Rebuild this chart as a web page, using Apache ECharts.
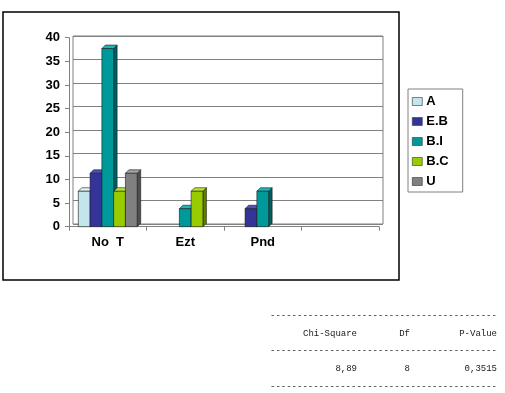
<!DOCTYPE html>
<html>
<head>
<meta charset="utf-8">
<script src="https://cdn.jsdelivr.net/npm/echarts@6/dist/echarts.min.js"></script>
<style>
html,body{margin:0;padding:0;background:#fff;}
#chart{width:505px;height:393px;}
</style>
</head>
<body>
<div id="chart"></div>
<script>
// ---- data ----
var categories = ['No  T', 'Ezt', 'Pnd', ''];
var seriesNames = ['A', 'E.B', 'B.I', 'B.C', 'U'];
var valA  = [7.5, 0, 0, 0];
var valEB = [11.3, 0, 3.8, 0];
var valBI = [37.7, 3.8, 7.5, 0];
var valBC = [7.5, 7.5, 0, 0];
var valU  = [11.3, 0, 0, 0];
var yTicks = [0, 40, 5];
var statHeaders = ['Chi-Square', 'Df', 'P-Value'];
var statValues = ['8,89', '8', '0,3515'];

var allValues = [valA, valEB, valBI, valBC, valU];
var faceColors = ['#C2E6EC', '#333399', '#009999', '#99CC00', '#808080'];
var sideColors = ['#8DB3BA', '#1E1E66', '#005F5F', '#627F00', '#4E4E4E'];
var topColors  = ['#E2F4F7', '#5050B8', '#1FB5B5', '#B9E632', '#A4A4A4'];
var nS = seriesNames.length;

function makeRender(k) {
  return function (params, api) {
    var cat = api.value(0), val = api.value(1);
    if (!val) return null;
    var p0 = api.coord([cat, 0]);
    var p1 = api.coord([cat, val]);
    var band = api.size([1, 0])[0];
    var bw = band * 0.152;
    var d = 3.5;
    var x = p0[0] - bw * nS / 2 + k * bw;
    var yb = p0[1], yt = p1[1];
    var stroke = '#1a1a1a';
    return {
      type: 'group',
      children: [
        { type: 'polygon', shape: { points: [[x + bw, yt], [x + bw + d, yt - d], [x + bw + d, yb - d], [x + bw, yb]] },
          style: { fill: sideColors[k], stroke: stroke, lineWidth: 0.6 } },
        { type: 'polygon', shape: { points: [[x, yt], [x + d, yt - d], [x + bw + d, yt - d], [x + bw, yt]] },
          style: { fill: topColors[k], stroke: stroke, lineWidth: 0.6 } },
        { type: 'rect', shape: { x: x, y: yt, width: bw, height: yb - yt },
          style: { fill: faceColors[k], stroke: stroke, lineWidth: 0.6 } }
      ]
    };
  };
}

var series = [];
for (var k = 0; k < nS; k++) {
  series.push({
    type: 'custom',
    name: seriesNames[k],
    xAxisIndex: 1,
    yAxisIndex: 1,
    itemStyle: { color: faceColors[k] },
    renderItem: makeRender(k),
    encode: { x: 0, y: 1 },
    data: allValues[k].map(function (v, i) { return [i, v]; })
  });
}

var mono = '9px "Liberation Mono", "DejaVu Sans Mono", monospace';
var dashes = new Array(43).join('-');
var statY1 = 334, statY2 = 369;
var rightEdges = [357, 410, 497];
var graphics = [
  { type: 'rect', shape: { x: 3, y: 12, width: 396, height: 268 },
    style: { fill: 'none', stroke: '#000', lineWidth: 1.5 }, z: 0 }
];
[316, 351, 387].forEach(function (y) {
  graphics.push({ type: 'text', x: 270, y: y, style: { text: dashes, font: mono, fill: '#1a1a1a', textVerticalAlign: 'middle' } });
});
for (var i = 0; i < 3; i++) {
  graphics.push({ type: 'text', x: rightEdges[i], y: statY1, style: { text: statHeaders[i], font: mono, fill: '#1a1a1a', textAlign: 'right', textVerticalAlign: 'middle' } });
  graphics.push({ type: 'text', x: rightEdges[i], y: statY2, style: { text: statValues[i], font: mono, fill: '#1a1a1a', textAlign: 'right', textVerticalAlign: 'middle' } });
}

var chart = echarts.init(document.getElementById('chart'), null, { renderer: 'canvas' });
chart.setOption({
  animation: false,
  backgroundColor: '#fff',
  grid: [
    { left: 73, top: 36, width: 310, height: 188, show: true, borderColor: '#808080', borderWidth: 1, backgroundColor: '#fff' },
    { left: 69, top: 37.7, width: 310, height: 189 }
  ],
  xAxis: [
    { gridIndex: 0, type: 'category', data: categories, show: false },
    { gridIndex: 1, type: 'category', data: categories,
      axisLine: { show: true, lineStyle: { color: '#808080', width: 1 } },
      axisTick: { show: true, length: 4, lineStyle: { color: '#808080' } },
      axisLabel: { margin: 9, color: '#000', fontFamily: 'Liberation Sans, Arial', fontWeight: 'bold', fontSize: 13 },
      splitLine: { show: false } }
  ],
  yAxis: [
    { gridIndex: 0, type: 'value', min: yTicks[0], max: yTicks[1], interval: yTicks[2],
      axisLine: { show: false }, axisTick: { show: false }, axisLabel: { show: false },
      splitLine: { show: true, lineStyle: { color: '#808080', width: 1 } } },
    { gridIndex: 1, type: 'value', min: yTicks[0], max: yTicks[1], interval: yTicks[2],
      axisLine: { show: true, lineStyle: { color: '#808080', width: 1 } },
      axisTick: { show: true, length: 4, lineStyle: { color: '#808080' } },
      axisLabel: { margin: 9, color: '#000', fontFamily: 'Liberation Sans, Arial', fontWeight: 'bold', fontSize: 13 },
      splitLine: { show: false } }
  ],
  legend: {
    orient: 'vertical',
    left: 408, top: 89,
    padding: [6, 14, 4, 4],
    itemGap: 7,
    itemWidth: 10, itemHeight: 8,
    icon: 'rect',
    borderColor: '#808080', borderWidth: 1,
    backgroundColor: '#fff',
    itemStyle: { borderColor: '#333', borderWidth: 0.6 },
    textStyle: { color: '#000', fontFamily: 'Liberation Sans, Arial', fontWeight: 'bold', fontSize: 13, padding: [0, 0, 0, -1] },
    data: seriesNames
  },
  graphic: graphics,
  series: series
});
</script>
</body>
</html>
